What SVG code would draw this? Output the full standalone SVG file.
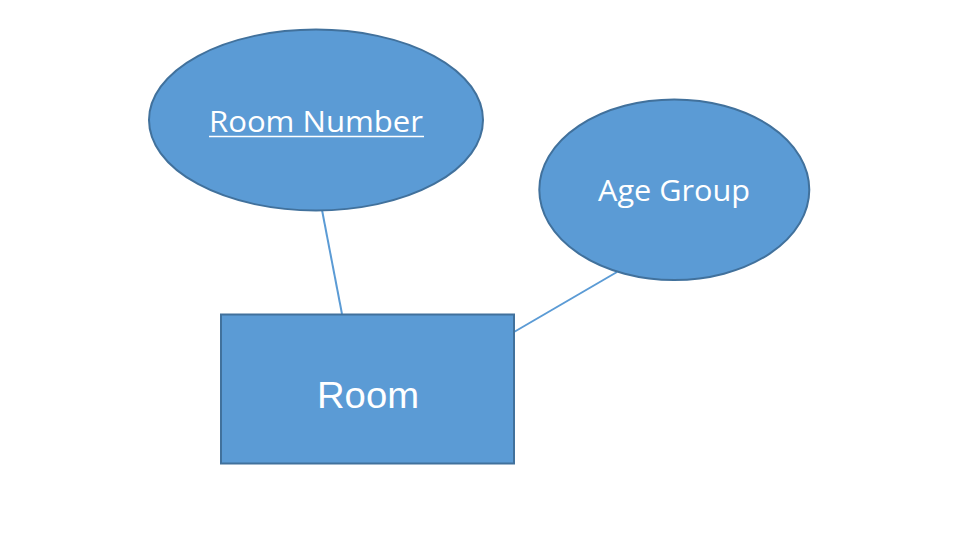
<svg xmlns="http://www.w3.org/2000/svg" width="960" height="540" viewBox="0 0 960 540">
<style>
.shape{fill:#5B9BD5;stroke:#41719C;stroke-width:2}
.conn{stroke:#5B9BD5;stroke-width:2;fill:none}
.lbl{fill:#FFFFFF;font-family:"Open Sans","Noto Sans","Liberation Sans",sans-serif;font-size:30px}
.lbl2{fill:#FFFFFF;font-family:"Liberation Sans",Arial,sans-serif;font-size:37.7px}
</style>
<rect x="0" y="0" width="960" height="540" fill="#FFFFFF"/>
<g id="connectors">
<line class="conn" x1="322" y1="210" x2="342" y2="314"/>
<line class="conn" x1="617" y1="272" x2="514" y2="332"/>
</g>
<g id="room-number">
<ellipse class="shape" cx="316" cy="120" rx="167" ry="90.5"/>
<text class="lbl" x="209" y="132" textLength="214" lengthAdjust="spacingAndGlyphs">Room Number</text>
<line x1="209" y1="136.5" x2="424" y2="136.5" stroke="#FFFFFF" stroke-width="1.6"/>
</g>
<g id="age-group">
<ellipse class="shape" cx="674.3" cy="189.7" rx="135" ry="90.3"/>
<text class="lbl" x="598" y="201" textLength="152" lengthAdjust="spacingAndGlyphs">Age Group</text>
</g>
<g id="room">
<rect class="shape" x="221" y="314.5" width="293" height="149"/>
<text class="lbl2" x="317" y="408" textLength="102" lengthAdjust="spacingAndGlyphs">Room</text>
</g>
</svg>
